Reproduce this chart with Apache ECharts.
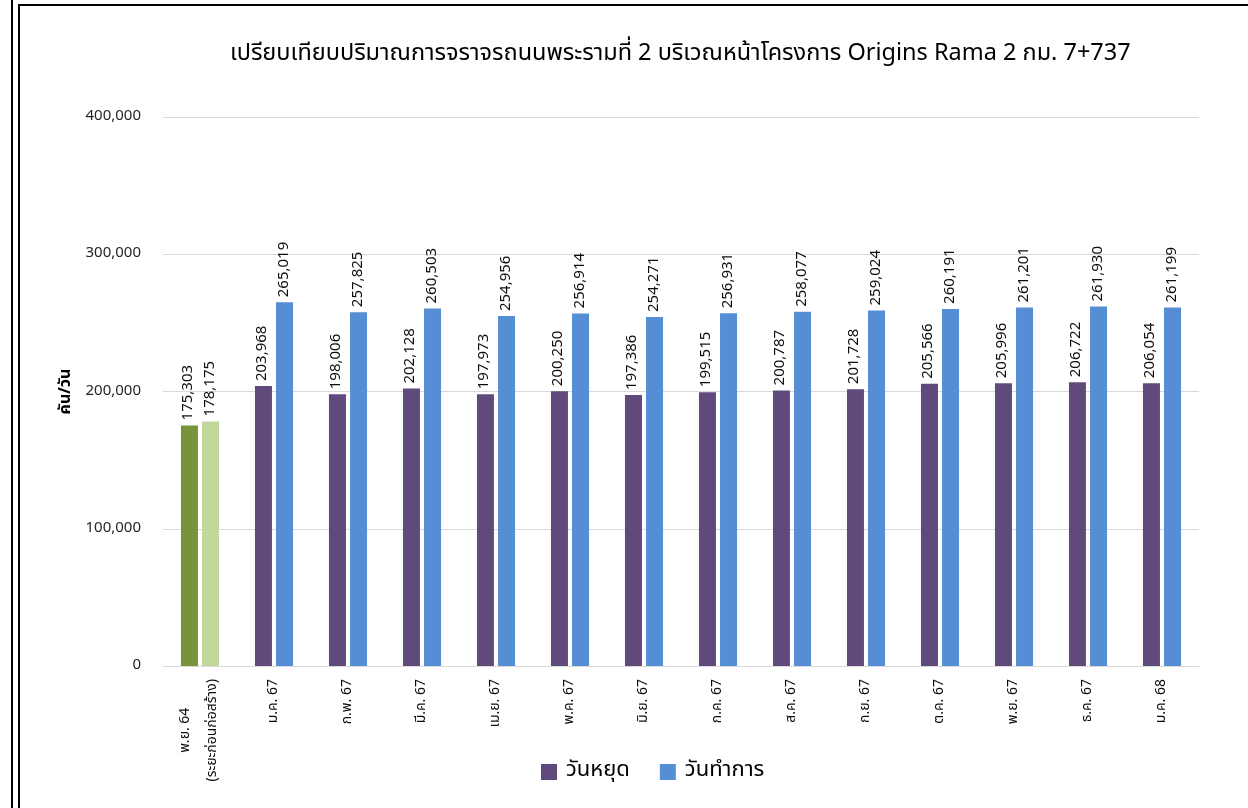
<!DOCTYPE html>
<html>
<head>
<meta charset="utf-8">
<script src="https://cdn.jsdelivr.net/npm/echarts@6/dist/echarts.min.js"></script>
<style>
html,body{margin:0;padding:0;background:#fff;}
#chart{position:absolute;left:0;top:0;width:1248px;height:808px;}
#l1{position:absolute;left:11px;top:0;width:2px;height:808px;background:#000;}
#l2{position:absolute;left:18px;top:4px;right:0;bottom:0;border-left:2px solid #000;border-top:2px solid #000;pointer-events:none;}
</style>
</head>
<body>
<div id="chart"></div>
<div id="l1"></div>
<div id="l2"></div>
<script>
const titleText = 'เปรียบเทียบปริมาณการจราจรถนนพระรามที่ 2 บริเวณหน้าโครงการ Origins Rama 2 กม. 7+737';
const categories = ['พ.ย. 64\n(ระยะก่อนก่อสร้าง)', 'ม.ค. 67', 'ก.พ. 67', 'มี.ค. 67', 'เม.ย. 67', 'พ.ค. 67', 'มิ.ย. 67', 'ก.ค. 67', 'ส.ค. 67', 'ก.ย. 67', 'ต.ค. 67', 'พ.ย. 67', 'ธ.ค. 67', 'ม.ค. 68'];
const holidayValues = [175303, 203968, 198006, 202128, 197973, 200250, 197386, 199515, 200787, 201728, 205566, 205996, 206722, 206054];
const workdayValues = [178175, 265019, 257825, 260503, 254956, 256914, 254271, 256931, 258077, 259024, 260191, 261201, 261930, 261199];
const seriesNames = ['วันหยุด', 'วันทำการ'];
const yAxisName = 'คัน/วัน';
const yTicks = [0, 100000, 200000, 300000, 400000];

const FONT = '"Noto Sans Thai", "Noto Sans", "DejaVu Sans", sans-serif';
const fmt = v => v.toLocaleString('en-US');

const holidayColor = '#604A7B', workColor = '#558ED5';
const preColors = ['#77933C', '#C3D69B'];

function mk(vals, preColor) {
  return vals.map((v, i) => i === 0 ? {value: v, itemStyle: {color: preColor}} : v);
}

const chart = echarts.init(document.getElementById('chart'), null, {renderer: 'canvas'});
const labelCfg = {
  show: true, position: 'top', rotate: 90, align: 'left', verticalAlign: 'middle',
  distance: 5, fontSize: 15, color: '#0d0d0d', fontFamily: FONT,
  formatter: p => fmt(p.value)
};
chart.setOption({
  animation: false,
  title: {
    text: titleText, left: 225, top: 38,
    textStyle: {fontSize: 23.5, fontWeight: 'normal', color: '#000', fontFamily: FONT}
  },
  legend: {
    bottom: 20, left: 536, itemWidth: 16, itemHeight: 16, itemGap: 30,
    icon: 'rect',
    textStyle: {fontSize: 22, color: '#000', fontFamily: FONT, padding: [0, 0, 0, 4]},
    data: seriesNames
  },
  grid: {left: 163, right: 49, top: 117, bottom: 142, containLabel: false},
  xAxis: {
    type: 'category', data: categories,
    axisLine: {lineStyle: {color: '#d9d9d9'}},
    axisTick: {show: false},
    axisLabel: {
      rotate: 90, interval: 0, margin: 13, fontSize: 14, color: '#0d0d0d', fontFamily: FONT,
      lineHeight: 27,
      formatter: (v, i) => i === 0 ? v.split('\n').map((s, k) => '{c' + k + '|' + s + '}').join('\n') : v,
      rich: {c0: {align: 'center', fontSize: 14, color: '#0d0d0d', fontFamily: FONT, lineHeight: 27},
             c1: {align: 'center', fontSize: 14, color: '#0d0d0d', fontFamily: FONT, lineHeight: 27}}
    }
  },
  yAxis: {
    type: 'value', min: yTicks[0], max: yTicks[yTicks.length - 1], interval: yTicks[1] - yTicks[0],
    name: yAxisName, nameLocation: 'middle', nameGap: 88, nameRotate: 90,
    nameTextStyle: {fontSize: 16, fontWeight: 'bold', color: '#000', fontFamily: FONT},
    axisLine: {show: false}, axisTick: {show: false},
    axisLabel: {fontSize: 15, color: '#262626', margin: 22, fontFamily: FONT, formatter: v => fmt(v)},
    splitLine: {lineStyle: {color: '#d9d9d9', width: 1}}
  },
  series: [
    {name: seriesNames[0], type: 'bar', data: mk(holidayValues, preColors[0]),
     itemStyle: {color: holidayColor}, barWidth: 17, barGap: '24%', label: labelCfg},
    {name: seriesNames[1], type: 'bar', data: mk(workdayValues, preColors[1]),
     itemStyle: {color: workColor}, barWidth: 17, barGap: '24%', label: labelCfg}
  ]
});
</script>
</body>
</html>
